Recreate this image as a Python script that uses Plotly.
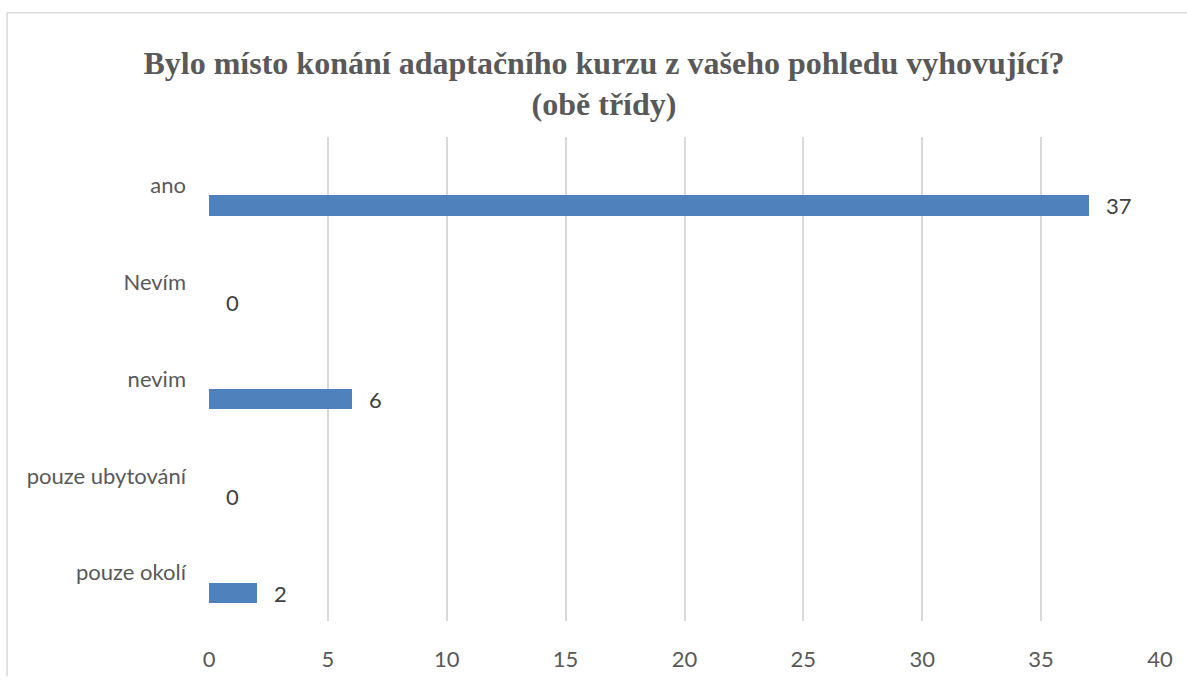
import plotly.graph_objects as go

categories = ["ano", "Nevím", "nevim", "pouze ubytování", "pouze okolí"]
values = [37, 0, 6, 0, 2]
x_ticks = [0, 5, 10, 15, 20, 25, 30, 35, 40]
title_text = "Bylo místo konání adaptačního kurzu z vašeho pohledu vyhovující?<br>(obě třídy)"

W, H = 1187, 684
L, R, T, B = 208.5, 27, 136.7, 56
PW, PH = W - L - R, H - T - B

fig = go.Figure()
fig.add_trace(go.Bar(
    y=categories, x=values, orientation="h",
    marker=dict(color="#4f81bd", line=dict(width=0)),
    width=0.209, offset=0.104,
    hoverinfo="x+y", showlegend=False,
))

for c, v in zip(categories, values):
    fig.add_annotation(
        x=v, y=c, xref="x", yref="y", text=str(v), showarrow=False,
        xanchor="left", yanchor="middle", xshift=15, yshift=-20.5,
        font=dict(family="Lato", size=22, color="#404040"),
    )

# chart-area border (top and left edges visible in the reference)
bx = (6.5 - L) / PW
by = (H - B - 10.5) / PH
fig.add_shape(type="line", xref="paper", yref="paper", x0=bx, x1=(W - L) / PW, y0=by, y1=by,
              line=dict(color="#d9d9d9", width=1.5), layer="below")
fig.add_shape(type="line", xref="paper", yref="paper", x0=bx, x1=bx, y0=by, y1=-B / PH,
              line=dict(color="#d9d9d9", width=1.5), layer="below")

fig.update_layout(
    width=W, height=H,
    margin=dict(l=L, r=R, t=T, b=B, pad=0),
    paper_bgcolor="white", plot_bgcolor="white",
    title=dict(text=title_text, x=604 / W, xanchor="center", xref="container",
               y=1 - 73.5 / H, yanchor="middle", yref="container",
               font=dict(family="Liberation Serif", size=32, color="#595959", weight="bold")),
    xaxis=dict(range=[0, 40], tickvals=x_ticks, showgrid=True, gridcolor="#d9d9d9",
               gridwidth=1.5, zeroline=False, showline=False, ticks="",
               tickfont=dict(family="Lato", size=22, color="#595959"),
               ticklabelstandoff=23, fixedrange=True),
    yaxis=dict(autorange="reversed", showgrid=False, zeroline=False, showline=False,
               ticks="", tickfont=dict(family="Lato", size=22, color="#595959"),
               ticklabelstandoff=22, fixedrange=True),
    bargap=0,
)

fig.write_html("out.html", config={"displayModeBar": False},
               post_script="document.body.style.margin='0';document.body.style.overflow='hidden';")
